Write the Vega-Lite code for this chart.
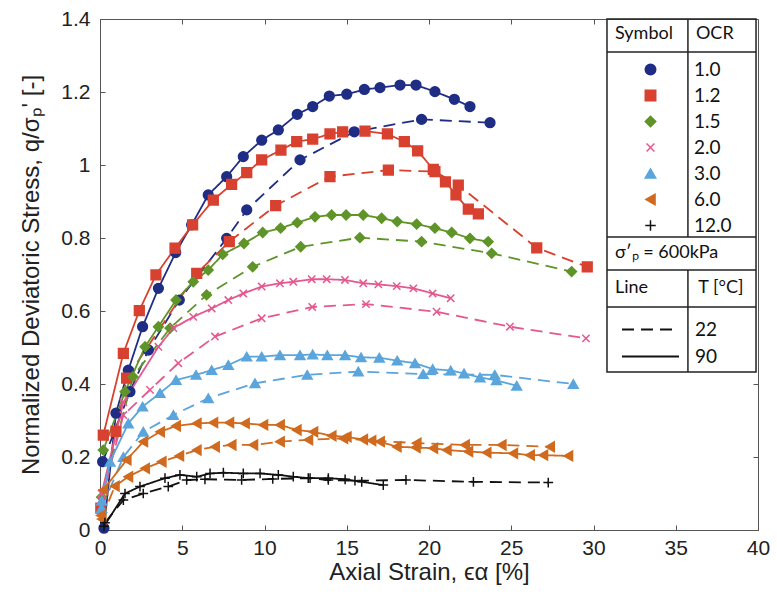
{
  "$schema": "https://vega.github.io/schema/vega-lite/v6.json",
  "width": 658,
  "height": 511,
  "autosize": "none",
  "padding": {"left": 100, "top": 19, "right": 19, "bottom": 68},
  "background": "white",
  "config": {
    "view": {"stroke": "#555", "strokeWidth": 1},
    "font": "Liberation Sans"
  },
  "datasets": {
    "curves": [
      {"OCR":"1.0","T":"90","strain":0.24,"stress":0.005},{"OCR":"1.0","T":"90","strain":0.97,"stress":0.32},{"OCR":"1.0","T":"90","strain":1.72,"stress":0.438},{"OCR":"1.0","T":"90","strain":2.59,"stress":0.557},{"OCR":"1.0","T":"90","strain":3.55,"stress":0.662},{"OCR":"1.0","T":"90","strain":4.6,"stress":0.76},{"OCR":"1.0","T":"90","strain":5.57,"stress":0.836},{"OCR":"1.0","T":"90","strain":6.58,"stress":0.918},{"OCR":"1.0","T":"90","strain":7.7,"stress":0.968},{"OCR":"1.0","T":"90","strain":8.71,"stress":1.023},{"OCR":"1.0","T":"90","strain":9.83,"stress":1.068},{"OCR":"1.0","T":"90","strain":10.84,"stress":1.096},{"OCR":"1.0","T":"90","strain":11.99,"stress":1.139},{"OCR":"1.0","T":"90","strain":12.93,"stress":1.16},{"OCR":"1.0","T":"90","strain":13.94,"stress":1.189},{"OCR":"1.0","T":"90","strain":15.0,"stress":1.194},{"OCR":"1.0","T":"90","strain":16.07,"stress":1.207},{"OCR":"1.0","T":"90","strain":17.02,"stress":1.212},{"OCR":"1.0","T":"90","strain":18.24,"stress":1.219},{"OCR":"1.0","T":"90","strain":19.21,"stress":1.219},{"OCR":"1.0","T":"90","strain":20.36,"stress":1.201},{"OCR":"1.0","T":"90","strain":21.54,"stress":1.18},{"OCR":"1.0","T":"90","strain":22.49,"stress":1.16},
      {"OCR":"1.0","T":"22","strain":0.16,"stress":0.187},{"OCR":"1.0","T":"22","strain":1.82,"stress":0.379},{"OCR":"1.0","T":"22","strain":2.94,"stress":0.493},{"OCR":"1.0","T":"22","strain":4.82,"stress":0.63},{"OCR":"1.0","T":"22","strain":7.7,"stress":0.799},{"OCR":"1.0","T":"22","strain":8.92,"stress":0.877},{"OCR":"1.0","T":"22","strain":12.16,"stress":1.014},{"OCR":"1.0","T":"22","strain":15.46,"stress":1.091},{"OCR":"1.0","T":"22","strain":19.55,"stress":1.125},{"OCR":"1.0","T":"22","strain":23.71,"stress":1.116},
      {"OCR":"1.2","T":"90","strain":0.2,"stress":0.26},{"OCR":"1.2","T":"90","strain":1.42,"stress":0.484},{"OCR":"1.2","T":"90","strain":2.39,"stress":0.601},{"OCR":"1.2","T":"90","strain":3.4,"stress":0.699},{"OCR":"1.2","T":"90","strain":4.56,"stress":0.772},{"OCR":"1.2","T":"90","strain":5.63,"stress":0.836},{"OCR":"1.2","T":"90","strain":6.89,"stress":0.904},{"OCR":"1.2","T":"90","strain":8.0,"stress":0.947},{"OCR":"1.2","T":"90","strain":8.92,"stress":0.979},{"OCR":"1.2","T":"90","strain":9.83,"stress":1.014},{"OCR":"1.2","T":"90","strain":11.0,"stress":1.041},{"OCR":"1.2","T":"90","strain":11.96,"stress":1.064},{"OCR":"1.2","T":"90","strain":12.93,"stress":1.071},{"OCR":"1.2","T":"90","strain":13.98,"stress":1.085},{"OCR":"1.2","T":"90","strain":14.75,"stress":1.091},{"OCR":"1.2","T":"90","strain":16.11,"stress":1.093},{"OCR":"1.2","T":"90","strain":17.47,"stress":1.085},{"OCR":"1.2","T":"90","strain":18.5,"stress":1.064},{"OCR":"1.2","T":"90","strain":19.31,"stress":1.039},{"OCR":"1.2","T":"90","strain":20.26,"stress":0.988},{"OCR":"1.2","T":"90","strain":21.0,"stress":0.954},{"OCR":"1.2","T":"90","strain":21.64,"stress":0.918},{"OCR":"1.2","T":"90","strain":22.39,"stress":0.879},{"OCR":"1.2","T":"90","strain":23.0,"stress":0.866},
      {"OCR":"1.2","T":"22","strain":0.05,"stress":0.06},{"OCR":"1.2","T":"22","strain":0.97,"stress":0.27},{"OCR":"1.2","T":"22","strain":1.62,"stress":0.416},{"OCR":"1.2","T":"22","strain":5.88,"stress":0.703},{"OCR":"1.2","T":"22","strain":7.86,"stress":0.79},{"OCR":"1.2","T":"22","strain":10.68,"stress":0.889},{"OCR":"1.2","T":"22","strain":13.98,"stress":0.968},{"OCR":"1.2","T":"22","strain":17.53,"stress":0.986},{"OCR":"1.2","T":"22","strain":20.36,"stress":0.982},{"OCR":"1.2","T":"22","strain":21.78,"stress":0.945},{"OCR":"1.2","T":"22","strain":26.55,"stress":0.773},{"OCR":"1.2","T":"22","strain":29.62,"stress":0.721},
      {"OCR":"1.5","T":"90","strain":0.2,"stress":0.219},{"OCR":"1.5","T":"90","strain":1.52,"stress":0.379},{"OCR":"1.5","T":"90","strain":2.74,"stress":0.502},{"OCR":"1.5","T":"90","strain":3.55,"stress":0.557},{"OCR":"1.5","T":"90","strain":4.62,"stress":0.63},{"OCR":"1.5","T":"90","strain":5.67,"stress":0.68},{"OCR":"1.5","T":"90","strain":6.58,"stress":0.712},{"OCR":"1.5","T":"90","strain":7.46,"stress":0.755},{"OCR":"1.5","T":"90","strain":8.75,"stress":0.785},{"OCR":"1.5","T":"90","strain":9.89,"stress":0.815},{"OCR":"1.5","T":"90","strain":10.98,"stress":0.827},{"OCR":"1.5","T":"90","strain":11.99,"stress":0.842},{"OCR":"1.5","T":"90","strain":13.07,"stress":0.858},{"OCR":"1.5","T":"90","strain":14.08,"stress":0.863},{"OCR":"1.5","T":"90","strain":14.96,"stress":0.863},{"OCR":"1.5","T":"90","strain":16.0,"stress":0.863},{"OCR":"1.5","T":"90","strain":17.12,"stress":0.854},{"OCR":"1.5","T":"90","strain":18.07,"stress":0.845},{"OCR":"1.5","T":"90","strain":19.25,"stress":0.838},{"OCR":"1.5","T":"90","strain":20.36,"stress":0.827},{"OCR":"1.5","T":"90","strain":21.38,"stress":0.815},{"OCR":"1.5","T":"90","strain":22.49,"stress":0.799},{"OCR":"1.5","T":"90","strain":23.6,"stress":0.79},
      {"OCR":"1.5","T":"22","strain":0.1,"stress":0.09},{"OCR":"1.5","T":"22","strain":2.0,"stress":0.42},{"OCR":"1.5","T":"22","strain":4.26,"stress":0.553},{"OCR":"1.5","T":"22","strain":6.48,"stress":0.644},{"OCR":"1.5","T":"22","strain":9.28,"stress":0.721},{"OCR":"1.5","T":"22","strain":12.2,"stress":0.776},{"OCR":"1.5","T":"22","strain":15.8,"stress":0.801},{"OCR":"1.5","T":"22","strain":19.55,"stress":0.79},{"OCR":"1.5","T":"22","strain":23.81,"stress":0.758},{"OCR":"1.5","T":"22","strain":28.67,"stress":0.708},
      {"OCR":"2.0","T":"90","strain":0.1,"stress":0.1},{"OCR":"2.0","T":"90","strain":1.42,"stress":0.35},{"OCR":"2.0","T":"90","strain":3.55,"stress":0.502},{"OCR":"2.0","T":"90","strain":4.46,"stress":0.553},{"OCR":"2.0","T":"90","strain":5.67,"stress":0.584},{"OCR":"2.0","T":"90","strain":6.79,"stress":0.607},{"OCR":"2.0","T":"90","strain":7.8,"stress":0.63},{"OCR":"2.0","T":"90","strain":8.71,"stress":0.648},{"OCR":"2.0","T":"90","strain":9.83,"stress":0.667},{"OCR":"2.0","T":"90","strain":10.94,"stress":0.676},{"OCR":"2.0","T":"90","strain":11.75,"stress":0.68},{"OCR":"2.0","T":"90","strain":12.87,"stress":0.687},{"OCR":"2.0","T":"90","strain":13.78,"stress":0.687},{"OCR":"2.0","T":"90","strain":14.89,"stress":0.685},{"OCR":"2.0","T":"90","strain":16.0,"stress":0.676},{"OCR":"2.0","T":"90","strain":16.92,"stress":0.673},{"OCR":"2.0","T":"90","strain":18.04,"stress":0.668},{"OCR":"2.0","T":"90","strain":19.05,"stress":0.662},{"OCR":"2.0","T":"90","strain":20.22,"stress":0.648},{"OCR":"2.0","T":"90","strain":21.32,"stress":0.635},
      {"OCR":"2.0","T":"22","strain":0.1,"stress":0.08},{"OCR":"2.0","T":"22","strain":1.42,"stress":0.315},{"OCR":"2.0","T":"22","strain":3.04,"stress":0.384},{"OCR":"2.0","T":"22","strain":4.76,"stress":0.457},{"OCR":"2.0","T":"22","strain":6.99,"stress":0.53},{"OCR":"2.0","T":"22","strain":9.83,"stress":0.58},{"OCR":"2.0","T":"22","strain":12.9,"stress":0.611},{"OCR":"2.0","T":"22","strain":16.17,"stress":0.619},{"OCR":"2.0","T":"22","strain":20.46,"stress":0.598},{"OCR":"2.0","T":"22","strain":24.92,"stress":0.557},{"OCR":"2.0","T":"22","strain":29.54,"stress":0.525},
      {"OCR":"3.0","T":"90","strain":0.1,"stress":0.08},{"OCR":"3.0","T":"90","strain":0.61,"stress":0.187},{"OCR":"3.0","T":"90","strain":1.72,"stress":0.292},{"OCR":"3.0","T":"90","strain":2.59,"stress":0.338},{"OCR":"3.0","T":"90","strain":3.65,"stress":0.375},{"OCR":"3.0","T":"90","strain":4.62,"stress":0.411},{"OCR":"3.0","T":"90","strain":5.84,"stress":0.425},{"OCR":"3.0","T":"90","strain":6.79,"stress":0.438},{"OCR":"3.0","T":"90","strain":7.8,"stress":0.452},{"OCR":"3.0","T":"90","strain":8.92,"stress":0.475},{"OCR":"3.0","T":"90","strain":9.83,"stress":0.475},{"OCR":"3.0","T":"90","strain":10.94,"stress":0.479},{"OCR":"3.0","T":"90","strain":12.16,"stress":0.479},{"OCR":"3.0","T":"90","strain":12.93,"stress":0.481},{"OCR":"3.0","T":"90","strain":13.82,"stress":0.479},{"OCR":"3.0","T":"90","strain":14.9,"stress":0.479},{"OCR":"3.0","T":"90","strain":15.87,"stress":0.473},{"OCR":"3.0","T":"90","strain":16.98,"stress":0.472},{"OCR":"3.0","T":"90","strain":18.07,"stress":0.464},{"OCR":"3.0","T":"90","strain":19.15,"stress":0.457},{"OCR":"3.0","T":"90","strain":20.22,"stress":0.441},{"OCR":"3.0","T":"90","strain":21.32,"stress":0.437},{"OCR":"3.0","T":"90","strain":22.13,"stress":0.429},{"OCR":"3.0","T":"90","strain":23.1,"stress":0.418},{"OCR":"3.0","T":"90","strain":24.1,"stress":0.41},{"OCR":"3.0","T":"90","strain":25.33,"stress":0.395},
      {"OCR":"3.0","T":"22","strain":0.1,"stress":0.06},{"OCR":"3.0","T":"22","strain":1.42,"stress":0.2},{"OCR":"3.0","T":"22","strain":2.63,"stress":0.269},{"OCR":"3.0","T":"22","strain":4.46,"stress":0.315},{"OCR":"3.0","T":"22","strain":6.58,"stress":0.361},{"OCR":"3.0","T":"22","strain":9.42,"stress":0.402},{"OCR":"3.0","T":"22","strain":12.6,"stress":0.425},{"OCR":"3.0","T":"22","strain":15.7,"stress":0.434},{"OCR":"3.0","T":"22","strain":19.65,"stress":0.427},{"OCR":"3.0","T":"22","strain":24.0,"stress":0.425},{"OCR":"3.0","T":"22","strain":28.77,"stress":0.4},
      {"OCR":"6.0","T":"90","strain":0.05,"stress":0.04},{"OCR":"6.0","T":"90","strain":0.2,"stress":0.11},{"OCR":"6.0","T":"90","strain":1.62,"stress":0.192},{"OCR":"6.0","T":"90","strain":2.63,"stress":0.242},{"OCR":"6.0","T":"90","strain":3.65,"stress":0.269},{"OCR":"6.0","T":"90","strain":4.62,"stress":0.285},{"OCR":"6.0","T":"90","strain":5.88,"stress":0.292},{"OCR":"6.0","T":"90","strain":6.89,"stress":0.294},{"OCR":"6.0","T":"90","strain":7.86,"stress":0.294},{"OCR":"6.0","T":"90","strain":8.81,"stress":0.292},{"OCR":"6.0","T":"90","strain":9.93,"stress":0.288},{"OCR":"6.0","T":"90","strain":10.94,"stress":0.288},{"OCR":"6.0","T":"90","strain":11.96,"stress":0.274},{"OCR":"6.0","T":"90","strain":12.97,"stress":0.269},{"OCR":"6.0","T":"90","strain":14.08,"stress":0.258},{"OCR":"6.0","T":"90","strain":15.0,"stress":0.255},{"OCR":"6.0","T":"90","strain":16.0,"stress":0.248},{"OCR":"6.0","T":"90","strain":17.02,"stress":0.242},{"OCR":"6.0","T":"90","strain":18.04,"stress":0.228},{"OCR":"6.0","T":"90","strain":19.2,"stress":0.226},{"OCR":"6.0","T":"90","strain":20.26,"stress":0.224},{"OCR":"6.0","T":"90","strain":21.08,"stress":0.219},{"OCR":"6.0","T":"90","strain":22.39,"stress":0.215},{"OCR":"6.0","T":"90","strain":23.5,"stress":0.212},{"OCR":"6.0","T":"90","strain":25.12,"stress":0.21},{"OCR":"6.0","T":"90","strain":26.14,"stress":0.205},{"OCR":"6.0","T":"90","strain":26.95,"stress":0.205},{"OCR":"6.0","T":"90","strain":28.47,"stress":0.203},
      {"OCR":"6.0","T":"22","strain":0.1,"stress":0.03},{"OCR":"6.0","T":"22","strain":0.9,"stress":0.12},{"OCR":"6.0","T":"22","strain":1.72,"stress":0.146},{"OCR":"6.0","T":"22","strain":2.74,"stress":0.169},{"OCR":"6.0","T":"22","strain":3.75,"stress":0.187},{"OCR":"6.0","T":"22","strain":4.82,"stress":0.203},{"OCR":"6.0","T":"22","strain":5.88,"stress":0.219},{"OCR":"6.0","T":"22","strain":6.99,"stress":0.228},{"OCR":"6.0","T":"22","strain":8.0,"stress":0.233},{"OCR":"6.0","T":"22","strain":9.32,"stress":0.233},{"OCR":"6.0","T":"22","strain":10.94,"stress":0.242},{"OCR":"6.0","T":"22","strain":12.66,"stress":0.247},{"OCR":"6.0","T":"22","strain":14.79,"stress":0.251},{"OCR":"6.0","T":"22","strain":16.5,"stress":0.245},{"OCR":"6.0","T":"22","strain":19.25,"stress":0.238},{"OCR":"6.0","T":"22","strain":22.19,"stress":0.233},{"OCR":"6.0","T":"22","strain":24.42,"stress":0.233},{"OCR":"6.0","T":"22","strain":27.36,"stress":0.228},
      {"OCR":"12.0","T":"90","strain":0.24,"stress":0.01},{"OCR":"12.0","T":"90","strain":1.52,"stress":0.1},{"OCR":"12.0","T":"90","strain":2.43,"stress":0.119},{"OCR":"12.0","T":"90","strain":3.95,"stress":0.142},{"OCR":"12.0","T":"90","strain":4.86,"stress":0.151},{"OCR":"12.0","T":"90","strain":5.88,"stress":0.146},{"OCR":"12.0","T":"90","strain":6.69,"stress":0.155},{"OCR":"12.0","T":"90","strain":7.5,"stress":0.157},{"OCR":"12.0","T":"90","strain":8.71,"stress":0.155},{"OCR":"12.0","T":"90","strain":9.73,"stress":0.155},{"OCR":"12.0","T":"90","strain":10.84,"stress":0.151},{"OCR":"12.0","T":"90","strain":11.75,"stress":0.146},{"OCR":"12.0","T":"90","strain":12.66,"stress":0.142},{"OCR":"12.0","T":"90","strain":13.88,"stress":0.142},{"OCR":"12.0","T":"90","strain":14.9,"stress":0.139},{"OCR":"12.0","T":"90","strain":15.91,"stress":0.132},{"OCR":"12.0","T":"90","strain":17.22,"stress":0.123},
      {"OCR":"12.0","T":"22","strain":0.3,"stress":0.02},{"OCR":"12.0","T":"22","strain":1.42,"stress":0.082},{"OCR":"12.0","T":"22","strain":2.63,"stress":0.1},{"OCR":"12.0","T":"22","strain":4.15,"stress":0.119},{"OCR":"12.0","T":"22","strain":5.27,"stress":0.137},{"OCR":"12.0","T":"22","strain":6.38,"stress":0.139},{"OCR":"12.0","T":"22","strain":8.61,"stress":0.137},{"OCR":"12.0","T":"22","strain":10.5,"stress":0.14},{"OCR":"12.0","T":"22","strain":12.77,"stress":0.142},{"OCR":"12.0","T":"22","strain":13.88,"stress":0.137},{"OCR":"12.0","T":"22","strain":15.5,"stress":0.135},{"OCR":"12.0","T":"22","strain":18.6,"stress":0.137},{"OCR":"12.0","T":"22","strain":22.7,"stress":0.132},{"OCR":"12.0","T":"22","strain":27.25,"stress":0.13}
    ]
  },
  "layer": [
    {
      "data": {"name": "curves"},
      "mark": {"type": "line", "strokeWidth": 1.8},
      "encoding": {
        "x": {"field": "strain", "type": "quantitative", "scale": {"domain": [0, 40], "nice": false},
          "axis": {"orient": "bottom", "title": "Axial Strain, ϵα [%]", "values": [0,5,10,15,20,25,30,35,40], "grid": false,
            "tickSize": -5, "tickColor": "#555", "domainColor": "#555", "labelFontSize": 21, "labelColor": "#222", "labelPadding": 12,
            "labelFlush": false, "titleFontSize": 24, "titleFontWeight": "normal", "titleColor": "#222", "titlePadding": 2}},
        "y": {"field": "stress", "type": "quantitative", "scale": {"domain": [0, 1.4], "nice": false},
          "axis": {"orient": "left", "title": "Normalized Deviatoric Stress, q/σₚ' [-]", "values": [0,0.2,0.4,0.6,0.8,1,1.2,1.4], "format": "~g", "grid": false,
            "tickSize": -5, "tickColor": "#555", "domainColor": "#555", "labelFontSize": 21, "labelColor": "#222", "labelPadding": 15,
            "labelFlush": false, "titleFontSize": 24, "titleFontWeight": "normal", "titleColor": "#222", "titlePadding": 17}},
        "color": {"field": "OCR", "type": "nominal",
          "scale": {"domain": ["1.0","1.2","1.5","2.0","3.0","6.0","12.0"], "range": ["#1f2d85","#d8412f","#5f9428","#e4588f","#5aa5dc","#d06a1e","#111111"]},
          "legend": {"orient": "none", "legendX": 507, "legendY": -2, "title": "Symbol\u00a0\u00a0\u00a0\u00a0\u00a0OCR",
            "titleFont": "Lato", "titleFontSize": 18, "titleFontWeight": "normal", "titleColor": "#111", "titlePadding": 17,
            "labelFont": "Lato", "labelFontSize": 19, "labelColor": "#111", "symbolSize": 110, "symbolOffset": 26, "labelOffset": 34,
            "padding": 8, "rowPadding": 6, "symbolStrokeWidth": 1.5}},
        "strokeDash": {"field": "T", "type": "nominal",
          "scale": {"domain": ["22","90"], "range": [[12,7],[1,0]]},
          "legend": {"orient": "none", "legendX": 507, "legendY": 217, "title": ["σ′ₚ = 600kPa", "Line\u00a0\u00a0\u00a0\u00a0\u00a0\u00a0\u00a0\u00a0\u00a0\u00a0\u00a0T [°C]"],
            "titleFont": "Lato", "titleFontSize": 18, "titleFontWeight": "normal", "titleColor": "#111", "titleLineHeight": 35, "titlePadding": 22,
            "labelFont": "Lato", "labelFontSize": 19, "labelColor": "#111", "symbolType": "M-3,0H3", "symbolSize": 361, "symbolStrokeColor": "#111",
            "symbolStrokeWidth": 2, "symbolDash": [10,6], "symbolOffset": 25, "labelOffset": 34, "padding": 8, "rowPadding": 6}}
      }
    },
    {
      "data": {"name": "curves"},
      "mark": {"type": "point", "filled": true, "size": 95, "strokeWidth": 1.5, "opacity": 1},
      "encoding": {
        "x": {"field": "strain", "type": "quantitative",
          "axis": {"orient": "top", "title": null, "labels": false, "values": [5,10,15,20,25,30], "tickSize": -5, "tickColor": "#555", "domain": false, "grid": false}},
        "y": {"field": "stress", "type": "quantitative",
          "axis": {"orient": "right", "title": null, "labels": false, "values": [0.2,0.4], "tickSize": -5, "tickColor": "#555", "domain": false, "grid": false}},
        "color": {"field": "OCR", "type": "nominal"},
        "stroke": {"field": "OCR", "type": "nominal",
          "scale": {"domain": ["1.0","1.2","1.5","2.0","3.0","6.0","12.0"], "range": ["#1f2d85","#d8412f","#5f9428","#e4588f","#5aa5dc","#d06a1e","#111111"]}},
        "shape": {"field": "OCR", "type": "nominal",
          "scale": {"domain": ["1.0","1.2","1.5","2.0","3.0","6.0","12.0"],
            "range": ["circle","square","diamond","M-0.75,-0.75L0.75,0.75M0.75,-0.75L-0.75,0.75","triangle-up","triangle-left","M-1,0L1,0M0,-1L0,1"]}}
      }
    },
    {
      "data": {"values": [{}]},
      "mark": {"type": "rect", "fill": "transparent", "stroke": "#222", "strokeWidth": 1.5},
      "encoding": {"x": {"datum": 30.82, "axis": null}, "x2": {"datum": 39.88}, "y": {"datum": 1.4, "axis": null}, "y2": {"datum": 0.433}}
    },
    {
      "data": {"values": [{}]},
      "mark": {"type": "rule", "stroke": "#222", "strokeWidth": 1.5},
      "encoding": {"x": {"datum": 30.82, "axis": null}, "x2": {"datum": 39.88}, "y": {"datum": 1.3096, "axis": null}}
    },
    {
      "data": {"values": [{}]},
      "mark": {"type": "rule", "stroke": "#222", "strokeWidth": 1.5},
      "encoding": {"x": {"datum": 30.82, "axis": null}, "x2": {"datum": 39.88}, "y": {"datum": 0.8027, "axis": null}}
    },
    {
      "data": {"values": [{}]},
      "mark": {"type": "rule", "stroke": "#222", "strokeWidth": 1.5},
      "encoding": {"x": {"datum": 30.82, "axis": null}, "x2": {"datum": 39.88}, "y": {"datum": 0.7123, "axis": null}}
    },
    {
      "data": {"values": [{}]},
      "mark": {"type": "rule", "stroke": "#222", "strokeWidth": 1.5},
      "encoding": {"x": {"datum": 30.82, "axis": null}, "x2": {"datum": 39.88}, "y": {"datum": 0.611, "axis": null}}
    },
    {
      "data": {"values": [{}]},
      "mark": {"type": "rule", "stroke": "#222", "strokeWidth": 1.5},
      "encoding": {"x": {"datum": 35.74, "axis": null}, "y": {"datum": 1.4, "axis": null}, "y2": {"datum": 0.8027}}
    },
    {
      "data": {"values": [{}]},
      "mark": {"type": "rule", "stroke": "#222", "strokeWidth": 1.5},
      "encoding": {"x": {"datum": 35.74, "axis": null}, "y": {"datum": 0.7123, "axis": null}, "y2": {"datum": 0.433}}
    }
  ],
  "resolve": {"axis": {"x": "independent", "y": "independent"}}
}
